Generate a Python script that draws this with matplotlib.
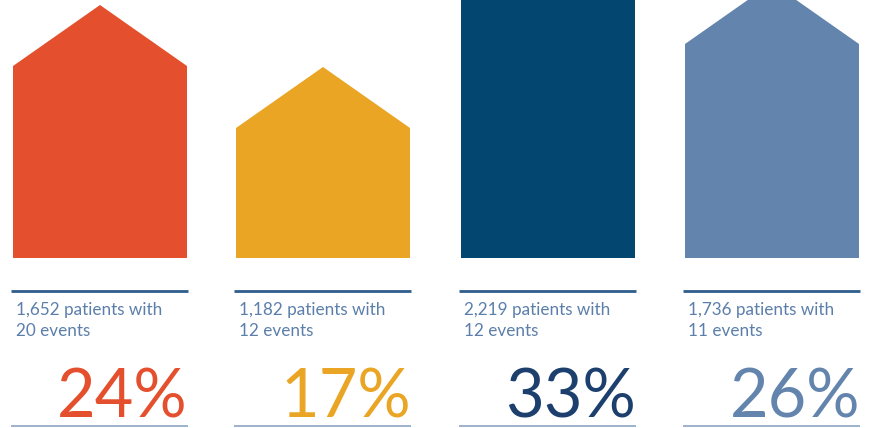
import matplotlib
matplotlib.use("Agg")
import matplotlib.pyplot as plt
from matplotlib.patches import Polygon

patients = ["1,652", "1,182", "2,219", "1,736"]
events = [20, 12, 12, 11]
pct = [24, 17, 33, 26]
# visual heights of the house bodies (shoulder), in px
body_h = [192, 130, 282, 214]
roof_h = 61
colors = ["#E4502D", "#E9A523", "#03466F", "#6384AC"]
pct_colors = ["#E4502D", "#E9A523", "#1C3F6E", "#6384AC"]

W, H = 876, 428
fig = plt.figure(figsize=(W / 100, H / 100), dpi=100)
ax = fig.add_axes([0, 0, 1, 1])
ax.set_xlim(0, W)
ax.set_ylim(H, 0)
ax.axis("off")

centers = [100, 323, 548, 772]
bw = 174
base = 258
for i, c in enumerate(centers):
    l, r = c - bw / 2, c + bw / 2
    sh = base - body_h[i]
    pk = sh - roof_h
    poly = Polygon([(l, base), (l, sh), (c, pk), (r, sh), (r, base)],
                   closed=True, facecolor=colors[i], edgecolor="none")
    ax.add_patch(poly)
    ax.plot([l - 2, r + 1], [291, 291], color="#2F5D8C", lw=2.0, solid_capstyle="butt")
    ax.plot([l - 2, r + 1], [426, 426], color="#8CA5C2", lw=1.2, solid_capstyle="butt")
    ax.text(l + 3, 310, f"{patients[i]} patients with", fontsize=12.3, family="Lato",
            color="#5B7FAA", va="center", ha="left")
    ax.text(l + 3, 331, f"{events[i]} events", fontsize=12.3, family="Lato",
            color="#5B7FAA", va="center", ha="left")
    ax.text(r + 1, 417, f"{pct[i]}%", fontsize=48, family="Lato",
            color=pct_colors[i], va="baseline", ha="right")

fig.savefig("out.png", dpi=100)
